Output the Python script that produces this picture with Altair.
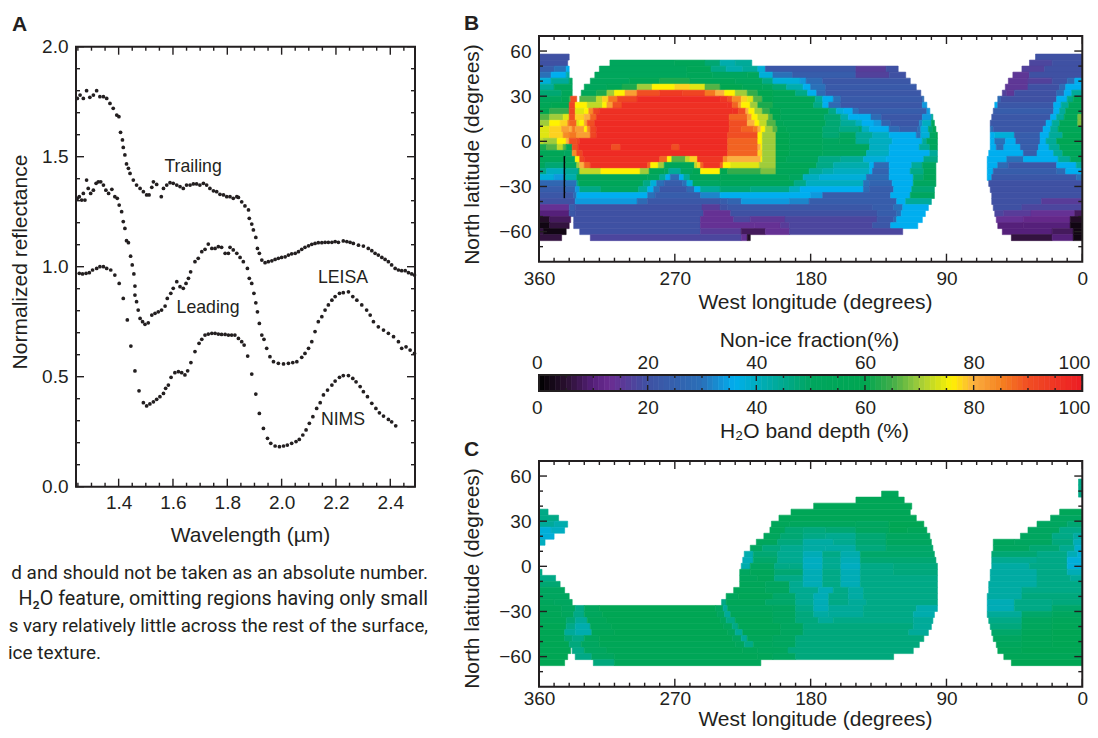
import altair as alt
import pandas as pd

_ = None
INK = "#231f20"
FONT = "Liberation Sans"

# ---------- Panel A: spectra ----------
TRAILING_WL = [1.248,1.258,1.270,1.282,1.294,1.307,1.319,1.331,1.344,1.356,1.368,1.380,1.393,1.401,1.407,1.414,1.417,1.423,1.429,1.436,1.442,1.454,1.466,1.479,1.491,1.503,1.512,1.522,1.528,1.540,1.557,1.565,1.577,1.589,1.601,1.614,1.626,1.638,1.650,1.663,1.675,1.687,1.699,1.712,1.724,1.736,1.749,1.761,1.773,1.786,1.798,1.810,1.822,1.835,1.841,1.853,1.865,1.878,1.881,1.890,1.896,1.905,1.911,1.918,1.927,1.939,1.951,1.964,1.976,1.988,2.000,2.013,2.025,2.037,2.050,2.062,2.074,2.086,2.099,2.111,2.123,2.135,2.148,2.160,2.172,2.185,2.197,2.209,2.227,2.240,2.252,2.264,2.283,2.301,2.319,2.332,2.344,2.356,2.369,2.381,2.393,2.405,2.418,2.430,2.442,2.455,2.467,2.479,2.489]
TRAILING_R = [1.765,1.780,1.765,1.800,1.770,1.780,1.800,1.773,1.773,1.765,1.742,1.720,1.689,1.682,1.611,1.576,1.542,1.508,1.467,1.447,1.424,1.394,1.371,1.356,1.341,1.326,1.326,1.361,1.386,1.374,1.318,1.356,1.371,1.382,1.379,1.371,1.364,1.356,1.371,1.371,1.376,1.376,1.371,1.379,1.371,1.356,1.345,1.341,1.329,1.326,1.318,1.318,1.311,1.318,1.315,1.295,1.276,1.258,1.220,1.194,1.167,1.133,1.083,1.061,1.030,1.018,1.023,1.027,1.033,1.038,1.042,1.045,1.053,1.058,1.061,1.068,1.079,1.088,1.095,1.102,1.106,1.109,1.109,1.111,1.111,1.111,1.114,1.111,1.117,1.114,1.111,1.106,1.098,1.094,1.083,1.073,1.061,1.053,1.042,1.033,1.023,1.008,0.992,0.985,0.982,0.982,0.973,0.967,0.962]

LEADING_WL = [1.248,1.255,1.264,1.270,1.276,1.282,1.288,1.297,1.307,1.317,1.325,1.334,1.344,1.353,1.363,1.375,1.386,1.395,1.402,1.411,1.417,1.423,1.429,1.436,1.444,1.450,1.456,1.460,1.460,1.466,1.472,1.479,1.488,1.497,1.509,1.522,1.534,1.546,1.558,1.571,1.579,1.592,1.601,1.614,1.626,1.638,1.648,1.657,1.665,1.681,1.693,1.706,1.718,1.730,1.743,1.755,1.767,1.779,1.792,1.804,1.810,1.822,1.835,1.847,1.859,1.874,1.881,1.890,1.898,1.905,1.911,1.918,1.927,1.935,1.945,1.957,1.970,1.988,2.007,2.025,2.041,2.056,2.074,2.086,2.099,2.111,2.123,2.135,2.148,2.160,2.172,2.185,2.197,2.213,2.227,2.246,2.262,2.277,2.295,2.313,2.326,2.338,2.356,2.375,2.393,2.412,2.430,2.442,2.458,2.473,2.489]
LEADING_R = [1.311,1.318,1.303,1.333,1.303,1.394,1.356,1.333,1.348,1.379,1.386,1.386,1.371,1.348,1.333,1.352,1.318,1.311,1.280,1.250,1.205,1.174,1.118,1.109,1.048,1.008,0.967,0.912,0.871,0.841,0.803,0.765,0.750,0.738,0.745,0.780,0.788,0.795,0.803,0.821,0.856,0.879,0.902,0.932,0.909,0.902,0.924,0.947,0.977,1.023,1.038,1.068,1.079,1.103,1.083,1.083,1.091,1.088,1.061,1.061,1.088,1.076,1.061,1.042,1.023,0.992,0.947,0.924,0.879,0.836,0.795,0.742,0.689,0.670,0.629,0.591,0.568,0.561,0.558,0.561,0.564,0.568,0.588,0.606,0.629,0.659,0.705,0.750,0.773,0.803,0.826,0.848,0.864,0.879,0.882,0.886,0.864,0.848,0.826,0.803,0.780,0.750,0.727,0.712,0.697,0.682,0.659,0.629,0.636,0.621,0.606]

NIMS_WL = [1.255,1.267,1.280,1.292,1.304,1.319,1.331,1.344,1.356,1.371,1.386,1.402,1.417,1.432,1.445,1.460,1.475,1.491,1.503,1.515,1.528,1.540,1.552,1.565,1.573,1.583,1.593,1.607,1.620,1.632,1.644,1.654,1.666,1.681,1.696,1.706,1.718,1.730,1.743,1.755,1.767,1.779,1.792,1.804,1.816,1.828,1.841,1.853,1.862,1.875,1.890,1.905,1.918,1.933,1.948,1.960,1.976,1.992,2.007,2.021,2.037,2.053,2.065,2.078,2.090,2.102,2.115,2.129,2.142,2.154,2.169,2.185,2.197,2.213,2.227,2.246,2.262,2.274,2.289,2.301,2.316,2.332,2.347,2.360,2.375,2.393,2.405,2.420]
NIMS_R = [0.970,0.967,0.970,0.973,0.985,0.992,1.000,1.000,0.992,0.985,0.962,0.924,0.856,0.758,0.639,0.526,0.436,0.382,0.367,0.376,0.386,0.397,0.409,0.424,0.447,0.462,0.497,0.518,0.523,0.518,0.508,0.527,0.564,0.614,0.652,0.670,0.689,0.694,0.697,0.697,0.694,0.692,0.692,0.689,0.689,0.689,0.674,0.659,0.644,0.594,0.512,0.421,0.333,0.265,0.220,0.197,0.185,0.182,0.185,0.189,0.197,0.205,0.215,0.235,0.258,0.288,0.318,0.356,0.382,0.417,0.439,0.462,0.480,0.497,0.505,0.505,0.492,0.477,0.455,0.432,0.409,0.379,0.356,0.336,0.321,0.306,0.295,0.277]

A_LABELS = ["Trailing", "Leading", "LEISA", "NIMS"]
A_LABEL_WL = [1.674, 1.729, 2.226, 2.226]
A_LABEL_R = [1.453, 0.812, 0.948, 0.303]

# ---------- Panel B: rows of [lon, value, lon, value, ..., lon, _] from the row's top latitude ----------
ROW_TOPS = [58,54,50,46,42,38,34,30,26,22,18,14,10,6,2,-2,-6,-10,-14,-18,-22,-26,-30,-34,-38,-42,-46,-50,-54,-58,-62]
B_ROWS = [
[360,20,340,_,31,20,0,_],
[360,20,341,_,313,52,270,54,250,48,240,42,230,44,219,_,35,18,20,20,0,_],
[360,24,350,30,342,36,340,_,320,52,262,56,246,46,236,42,225,44,215,38,210,22,150,16,130,20,122,_,40,17,25,20,0,_],
[360,30,352,36,342,42,340,_,323,52,262,54,245,50,222,52,214,38,205,30,192,24,150,17,128,20,117,_,46,15,35,20,0,_],
[360,38,352,44,340,50,338,_,326,52,300,58,280,62,260,56,230,52,212,46,205,38,187,34,183,28,172,22,114,_,49,15,36,17,20,20,10,28,5,36,0,_],
[360,44,350,52,338,_,330,52,315,56,305,62,295,70,285,76,270,78,260,74,250,66,240,60,225,56,212,52,205,48,196,42,185,36,180,30,170,23,110,_,51,15,36,20,15,28,11,36,0,_],
[360,48,345,54,338,_,332,54,322,62,315,70,310,76,303,82,295,90,280,94,265,92,250,86,243,80,237,76,230,70,222,64,215,60,205,56,190,46,182,36,176,28,170,22,107,_,53,17,50,15,45,20,17,28,12,36,7,44,0,_],
[360,52,345,58,340,64,339,90,335,_,333,66,322,72,318,78,314,86,308,92,295,97,240,95,235,90,232,84,226,78,222,74,218,66,212,60,205,56,177,44,172,36,165,30,160,23,106,28,105,_,56,28,54,20,17,36,10,46,6,56,0,_],
[360,56,352,60,340,92,336,76,328,72,318,76,315,82,311,90,305,96,235,96,232,88,228,82,226,76,220,70,215,62,205,56,178,46,172,36,168,28,160,22,106,34,103,_,58,36,56,22,19,36,14,44,9,54,0,_],
[360,60,353,64,340,92,336,74,330,76,327,84,324,92,320,96,232,96,228,90,223,80,221,76,217,70,212,64,207,60,200,54,168,46,163,38,158,36,152,30,148,24,103,34,101,_,59,24,19,36,15,44,11,54,0,_],
[360,66,353,70,344,74,340,90,336,78,330,80,326,88,322,96,234,88,222,82,219,76,215,72,208,66,205,60,200,54,171,48,160,42,155,36,148,36,140,28,133,22,106,34,100,44,99,_,60,22,21,36,17,44,12,56,3,68,0,_],
[360,70,353,76,346,78,341,84,340,88,335,74,333,76,330,82,328,90,323,97,234,90,222,80,217,76,214,72,209,66,203,56,198,54,170,48,160,44,150,40,146,36,138,34,133,26,127,22,108,32,106,40,100,52,98,_,61,22,24,36,20,44,15,56,3,68,0,_],
[360,74,353,78,345,82,340,80,338,86,336,82,330,76,328,84,326,92,322,97,234,90,226,88,218,86,215,80,213,76,210,70,205,66,202,58,196,54,172,48,161,46,148,48,146,40,141,36,128,28,121,24,109,30,107,38,102,48,99,56,97,_,61,30,59,22,26,36,21,44,16,56,0,_],
[360,74,353,78,344,84,340,86,335,82,326,92,322,97,235,90,215,76,212,70,203,60,194,54,172,48,161,50,150,44,139,40,128,36,110,30,107,38,101,50,97,58,96,_,61,36,58,38,45,24,28,36,22,44,13,58,0,_],
[360,72,357,70,348,76,342,80,340,90,335,92,333,97,235,88,215,76,212,70,203,60,194,54,172,50,161,52,150,44,141,40,126,36,106,44,103,52,96,_,61,36,58,30,51,36,44,24,28,36,24,44,17,58,0,_],
[360,62,355,66,348,72,344,66,342,56,338,90,334,97,312,90,306,97,272,90,267,97,235,88,215,80,213,76,212,70,203,60,194,54,172,50,141,40,128,36,108,44,101,52,96,_,61,36,57,28,52,36,41,24,29,36,22,44,15,56,0,_],
[360,56,343,50,338,84,335,92,331,97,235,88,215,78,212,70,203,60,194,54,172,50,143,40,128,36,101,44,96,_,62,36,39,24,30,36,19,44,13,54,0,_],
[360,54,343.5,0,342.5,52,336,76,333,92,330,96,280,88,275,76,272,66,263,72,260,78,255,95,238,84,235,80,213,76,212,70,203,58,196,52,175,46,160,44,145,38,130,36,105,46,96,_,63,36,50,30,39,36,16,44,8,52,0,_],
[360,52,356,48,343.5,0,342.5,50,335,70,333,80,330,88,326,96,288,88,286,76,281,70,277,54,257,72,255,78,253,88,251,95,240,88,238,76,233,74,214,70,203,56,176,46,165,42,141,36,138,28,128,36,113,44,106,50,97,_,63,36,56,28,49,22,17,36,4,44,0,_],
[360,46,355,40,343.5,0,342.5,44,334,56,333,72,319,76,293,70,287,56,277,50,274,44,266,50,258,58,253,76,240,60,235,64,213,68,203,54,181,44,172,42,165,40,141,36,139,26,128,36,114,46,105,54,97,_,63,36,59,24,17,28,11,36,0,_],
[360,38,350,34,343.5,0,342.5,42,335,54,288,50,280,44,276,36,273,28,267,36,264,44,260,54,240,56,194,50,185,40,174,38,143,28,128,36,112,48,105,56,97,_,63,36,60,22,4,30,0,_],
[360,27,343.5,0,342.5,30,335,44,334,54,291,46,286,38,282,30,277,24,265,30,262,38,258,50,240,54,191,46,183,40,145,30,141,26,126,36,112,50,97,_,62,20,0,_],
[360,24,343.5,0,342.5,26,336,34,333,46,319,50,294,44,288,36,284,30,280,22,262,28,257,36,253,44,240,48,220,46,194,40,187,36,145,28,141,24,125,36,113,48,98,_,61,20,0,_],
[360,22,343.5,0,342.5,22,337,30,335,36,288,30,283,24,253,32,240,36,180,34,172,24,127,36,114,50,98,_,60,20,0,_],
[360,20,336,34,295,28,288,22,240,24,235,26,226,34,194,32,181,24,123,36,117,44,100,_,60,20,27,16,0,_],
[360,14,340,24,336,20,252,16,240,20,235,22,139,24,125,30,119,36,102,_,59,20,40,18,0,_],
[360,10,340,22,336,20,251,14,233,20,136,24,123,30,120,36,104,_,58,18,52,16,34,14,5,8,0,_],
[360,4,353,8,339,_,337,20,253,14,231,18,220,15,197,18,136,22,125,28,123,36,106,_,57,14,39,12,8,4,0,_],
[360,2,353,6,340,_,337,20,253,14,217,14,200,16,194,18,139,22,127,36,109,_,56,10,39,10,8,2,0,_],
[360,6,357,2,342,_,333,20,253,16,226,8,210,14,194,18,119,_,53,10,20,8,6,2,0,_],
[360,6,345,_,326,18,226,14,222,4,220,_,47,6,20,10,6,2,0,_],
]

# ---------- Panel C ----------
C_ROWS = [
[2.5,46,0,_],
[2.5,46,0,_],
[133,54,122,_,2.5,46,0,_],
[150,56,118,_],
[178,56,113,_],
[360,46,354,_,193,56,114,_,15,54,0,_],
[360,46,347,_,201,56,110,_,21,50,0,_],
[360,44,350,42,341,_,206,54,194,52,150,50,128,58,105,_,30,50,10,48,0,_],
[360,38,352,40,343,_,207,54,197,48,185,47,170,48,150,50,128,58,116,54,103,_,36,50,15,46,0,_],
[360,38,350,_,211,52,200,48,185,46,170,45,150,48,130,50,101,_,41,50,20,46,6,43,0,_],
[360,40,356,_,216,52,202,47,185,43,165,45,150,48,130,50,100,_,59,52,45,50,20,47,6,41,0,_],
[220,50,212,47,200,45,185,43,170,43,150,47,130,49,99,_,59,50,35,48,15,45,5,39,0,_],
[224,42,218,48,202,45,185,41,172,46,160,42,147,49,98,_,60,48,30,46,10,41,3,38,0,_],
[225,41,218,49,202,45,185,40,172,45,160,41,147,48,97,_,60,45,30,46,10,38,0,_],
[226,42,220,50,204,46,194,46,185,40,172,45,160,40,147,46,125,47,96,_,60,43,35,46,10,38,0,_],
[360,46,358,_,227,50,220,54,204,48,185,41,172,46,160,41,147,46,125,47,96,_,61,43,30,46,10,41,0,_],
[360,46,349,_,227,52,215,54,204,46,185,41,172,46,160,41,147,46,96,_,61,43,30,46,8,44,0,_],
[360,48,346,_,227,54,210,50,194,45,185,41,172,46,160,41,147,46,96,_,62,43,30,46,0,_],
[360,50,343,_,231,54,210,50,194,45,175,41,165,46,155,43,145,46,96,_,62,43,40,46,0,_],
[360,50,340,_,236,52,228,56,205,49,190,45,178,41,168,46,155,43,145,46,96,_,63,43,40,47,0,_],
[360,52,350,50,338,_,239,46,236,54,210,49,190,45,178,41,168,46,155,44,143,46,96,_,63,41,45,46,20,47,0,_],
[360,54,345,50,336,46,330,52,320,58,243,50,238,44,235,52,205,50,190,46,178,41,168,44,145,46,110,42,96,_,63,41,45,46,20,49,0,_],
[360,56,345,52,337,46,330,52,318,58,242,50,237,44,233,54,205,50,190,47,178,43,168,44,145,46,112,42,98,_,63,44,40,49,20,51,0,_],
[360,56,342,48,336,44,328,54,315,58,240,52,236,46,230,56,205,50,190,47,175,44,165,46,112,44,99,_,62,46,40,51,20,54,0,_],
[360,58,342,46,336,42,326,54,312,58,238,52,232,46,228,56,200,50,185,47,112,44,100,_,61,47,40,52,20,56,0,_],
[360,58,343,44,336,42,325,56,310,58,235,52,230,44,225,56,200,50,185,47,115,44,102,_,60,49,40,54,20,58,0,_],
[360,58,343,48,338,46,330,52,320,58,232,50,226,44,222,54,205,50,190,47,105,_,59,50,40,56,20,58,0,_],
[360,58,340,47,332,50,320,56,230,52,224,46,218,52,205,50,190,47,108,_,57,52,40,56,20,58,0,_],
[360,58,339,_,338,46,330,50,315,56,225,54,215,52,195,47,112,_,56,54,40,58,0,_],
[360,58,341,_,336,46,325,50,310,56,215,54,205,50,190,47,125,_,52,56,0,_],
[360,58,343,_,324,47,310,54,213,_,47,58,0,_],
]

# ---------- Colour ramp ----------
RAMP_STOPS = [0,5,10,13,20,30,36,40,50,60,65,70,76,80,85,90,100]
RAMP_COLOURS = ["#000000","#2a1030","#55207a","#6b2c91","#3f51a3","#2a70b8","#00aeef","#00adc0","#00a65f","#00a651","#40ad49","#a0cc3a","#fff200","#fbb040","#f58220","#f04e23","#ed1c24"]
BAR_LEVELS = list(range(100))

LON_TICKS = [360, 270, 180, 90, 0]
LON_MINOR = [350,340,330,320,310,300,290,280,260,250,240,230,220,210,200,190,170,160,150,140,130,120,110,100,80,70,60,50,40,30,20,10]
LAT_TICKS = [60, 30, 0, -30, -60]
LAT_MINOR = [50,40,20,10,-10,-20,-40,-50,-70]
WL_TICKS = [1.4,1.6,1.8,2.0,2.2,2.4]
WL_MINOR = [1.25,1.3,1.35,1.45,1.5,1.55,1.65,1.7,1.75,1.85,1.9,1.95,2.05,2.1,2.15,2.25,2.3,2.35,2.45]
R_TICKS = [0.0,0.5,1.0,1.5,2.0]
R_MINOR = [0.1,0.2,0.3,0.4,0.6,0.7,0.8,0.9,1.1,1.2,1.3,1.4,1.6,1.7,1.8,1.9]
BAR_TICKS = [0,20,40,60,80,100]
BAR_MINOR = [5,10,15,25,30,35,45,50,55,65,70,75,85,90,95]

CAPTION = ["d and should not be taken as an absolute number.",
           "H₂O feature, omitting regions having only small",
           "s vary relatively little across the rest of the surface,"]
CAPTION_SIZES = [18.9, 19.7, 18.7]
CAPTION_END = "ice texture."

W, H = 1082, 722
COLOR = alt.Scale(domain=RAMP_STOPS, range=RAMP_COLOURS, interpolate="rgb")
LABEL = dict(labelFont=FONT, labelFontSize=19, labelColor=INK, titleFont=FONT, titleFontSize=21,
             titleColor=INK, titleFontWeight="normal", ticks=False, domain=False, grid=False,
             labelOverlap=False)
NOFLUSH = dict(labelFlush=False)
FLUSH = dict(labelFlush=1, labelFlushOffset=7.5)


def rows_frame(rows):
    out = []
    for top, row in zip(ROW_TOPS, rows):
        for i in range(0, len(row) - 2, 2):
            if row[i + 1] is not None:
                out.append(dict(lon=row[i], lon2=row[i + 2], lat=top, lat2=top - 4, v=row[i + 1]))
    return pd.DataFrame(out)


def heat(rows, xs, ys):
    return alt.Chart(rows_frame(rows)).mark_rect(strokeWidth=0.6).encode(
        x=alt.X("lon:Q", scale=xs, axis=None), x2="lon2:Q",
        y=alt.Y("lat:Q", scale=ys, axis=None), y2="lat2:Q",
        color=alt.Color("v:Q", scale=COLOR, legend=None),
        stroke=alt.Stroke("v:Q", scale=COLOR, legend=None))


def xticks(vals, xs, p0, p1):
    return alt.Chart(pd.DataFrame({"t": vals})).mark_rule(color=INK, strokeWidth=1.4).encode(
        x=alt.X("t:Q", scale=xs, axis=None), y=alt.value(p0), y2=alt.value(p1))


def yticks(vals, ys, p0, p1):
    return alt.Chart(pd.DataFrame({"t": vals})).mark_rule(color=INK, strokeWidth=1.4).encode(
        y=alt.Y("t:Q", scale=ys, axis=None), x=alt.value(p0), x2=alt.value(p1))


def frame(xd, yd, xs, ys, xaxis, yaxis):
    d = pd.DataFrame([dict(a=xd[0], b=xd[1], c=yd[0], d=yd[1])])
    return alt.Chart(d).mark_rect(fillOpacity=0, stroke=INK, strokeWidth=2).encode(
        x=alt.X("a:Q", scale=xs, axis=xaxis), x2="b:Q",
        y=alt.Y("c:Q", scale=ys, axis=yaxis), y2="d:Q")


def ticks_all(xmaj, xmin, ymaj, ymin, xs, ys, l, r, t, b):
    return [xticks(xmaj, xs, b, b - 8), xticks(xmaj, xs, t, t + 8),
            xticks(xmin, xs, b, b - 4), xticks(xmin, xs, t, t + 4),
            yticks(ymaj, ys, l, l + 8), yticks(ymaj, ys, r, r - 8),
            yticks(ymin, ys, l, l + 4), yticks(ymin, ys, r, r - 4)]


def text(lines, x, y, size, weight="normal", font=FONT, align="left"):
    return alt.Chart(pd.DataFrame({"t": lines})).mark_text(
        font=font, fontSize=size, fontWeight=weight, color=INK, align=align, baseline="alphabetic"
    ).encode(text="t:N", x=alt.value(x), y=alt.value(y))


layers = []

# Panel A
AL, AR, AT, AB = 68, 407, 38.7, 478.7
ax = alt.Scale(domain=[1.243, 2.491], range=[AL, AR], nice=False, zero=False)
ay = alt.Scale(domain=[0, 2], range=[AB, AT], nice=False, zero=False)
for wl, r in [(TRAILING_WL, TRAILING_R), (LEADING_WL, LEADING_R), (NIMS_WL, NIMS_R)]:
    layers.append(alt.Chart(pd.DataFrame({"w": wl, "r": r})).mark_circle(size=14, color=INK, opacity=1).encode(
        x=alt.X("w:Q", scale=ax, axis=None), y=alt.Y("r:Q", scale=ay, axis=None)))
layers.append(alt.Chart(pd.DataFrame({"t": A_LABELS, "w": A_LABEL_WL, "r": A_LABEL_R})).mark_text(
    font=FONT, fontSize=17.7, color=INK).encode(
    text="t:N", x=alt.X("w:Q", scale=ax, axis=None), y=alt.Y("r:Q", scale=ay, axis=None)))
layers += ticks_all(WL_TICKS, WL_MINOR, R_TICKS, R_MINOR, ax, ay, AL, AR, AT, AB)
layers.append(frame([1.243, 2.491], [0, 2], ax, ay,
    alt.Axis(orient="bottom", offset=AB - H, values=WL_TICKS, format=".1f", title="Wavelength (µm)",
             labelPadding=7, titlePadding=12, titleX=242, **LABEL, **NOFLUSH),
    alt.Axis(orient="left", offset=-AL, values=R_TICKS, format=".1f", title="Normalized reflectance",
             labelPadding=8, titlePadding=11, titleY=253.5, **LABEL, **NOFLUSH)))

# Panels B and C
BL, BR = 531, 1074.3
for rows, top, bottom, ty, lp, tp in [(B_ROWS, 28, 253.7, 146, 8, 3), (C_ROWS, 453, 678.7, 570, 3, 0)]:
    xs = alt.Scale(domain=[360, 0], range=[BL, BR], nice=False, zero=False)
    ys = alt.Scale(domain=[-80, 70], range=[bottom, top], nice=False, zero=False)
    layers.append(heat(rows, xs, ys))
    layers += ticks_all(LON_TICKS, LON_MINOR, LAT_TICKS, LAT_MINOR, xs, ys, BL, BR, top, bottom)
    layers.append(frame([360, 0], [-80, 70], xs, ys,
        alt.Axis(orient="bottom", offset=bottom - H, values=LON_TICKS, format="d", title="West longitude (degrees)",
                 labelPadding=lp, titlePadding=tp, titleX=807, **LABEL, **NOFLUSH),
        alt.Axis(orient="left", offset=-BL, values=LAT_TICKS, format="d", title="North latitude (degrees)",
                 labelPadding=8, titlePadding=16, titleY=ty, **LABEL, **NOFLUSH)))

# Colour bar
CT, CB = 367, 383
cx = alt.Scale(domain=[0, 100], range=[BL, BR], nice=False, zero=False)
bar = pd.DataFrame({"v": BAR_LEVELS, "e": [v + 1 for v in BAR_LEVELS], "m": [v + 0.5 for v in BAR_LEVELS]})
layers.append(alt.Chart(bar).mark_rect(strokeWidth=0.6).encode(
    x=alt.X("v:Q", scale=cx, axis=None), x2="e:Q", y=alt.value(CT), y2=alt.value(CB),
    color=alt.Color("m:Q", scale=COLOR, legend=None),
    stroke=alt.Stroke("m:Q", scale=COLOR, legend=None)))
layers += [xticks(BAR_TICKS, cx, CT, CT + 6), xticks(BAR_TICKS, cx, CB, CB - 6),
           xticks(BAR_MINOR, cx, CT, CT + 3), xticks(BAR_MINOR, cx, CB, CB - 3)]
dd = pd.DataFrame({"a": [0], "b": [100]})
layers.append(alt.Chart(dd).mark_rect(fillOpacity=0, stroke=INK, strokeWidth=2).encode(
    x=alt.X("a:Q", scale=cx, axis=alt.Axis(orient="bottom", offset=CB - H, values=BAR_TICKS, format="d",
            title="H₂O band depth (%)", labelPadding=7, titlePadding=3, titleX=806, **LABEL, **FLUSH)),
    x2="b:Q", y=alt.value(CT), y2=alt.value(CB)))
layers.append(alt.Chart(dd).mark_rule(opacity=0).encode(
    x=alt.X("a:Q", scale=cx, axis=alt.Axis(orient="top", offset=-CT, values=BAR_TICKS, format="d",
            title="Non-ice fraction(%)", labelPadding=3, titlePadding=3, titleX=801, **LABEL, **FLUSH)),
    y=alt.value(CT)))

# Panel letters and the caption fragment
layers += [text(["A"], 4, 23, 21, "bold"), text(["B"], 456, 22, 21, "bold"), text(["C"], 456, 448, 21, "bold")]
CAP_FONT = "Roboto"
for i, line in enumerate(CAPTION):
    layers.append(text([line], 420, [571, 597, 624][i], CAPTION_SIZES[i], font=CAP_FONT, align="right"))
layers.append(text([CAPTION_END], 0, 651, 19, font=CAP_FONT))

chart = alt.layer(*layers).resolve_scale(x="independent", y="independent").resolve_axis(
    x="independent", y="independent"
).properties(width=W, height=H, padding=0, autosize=alt.AutoSizeParams(type="none")).configure_view(stroke=None)

chart.save("out.html", embed_options={"renderer": "svg", "actions": False})
